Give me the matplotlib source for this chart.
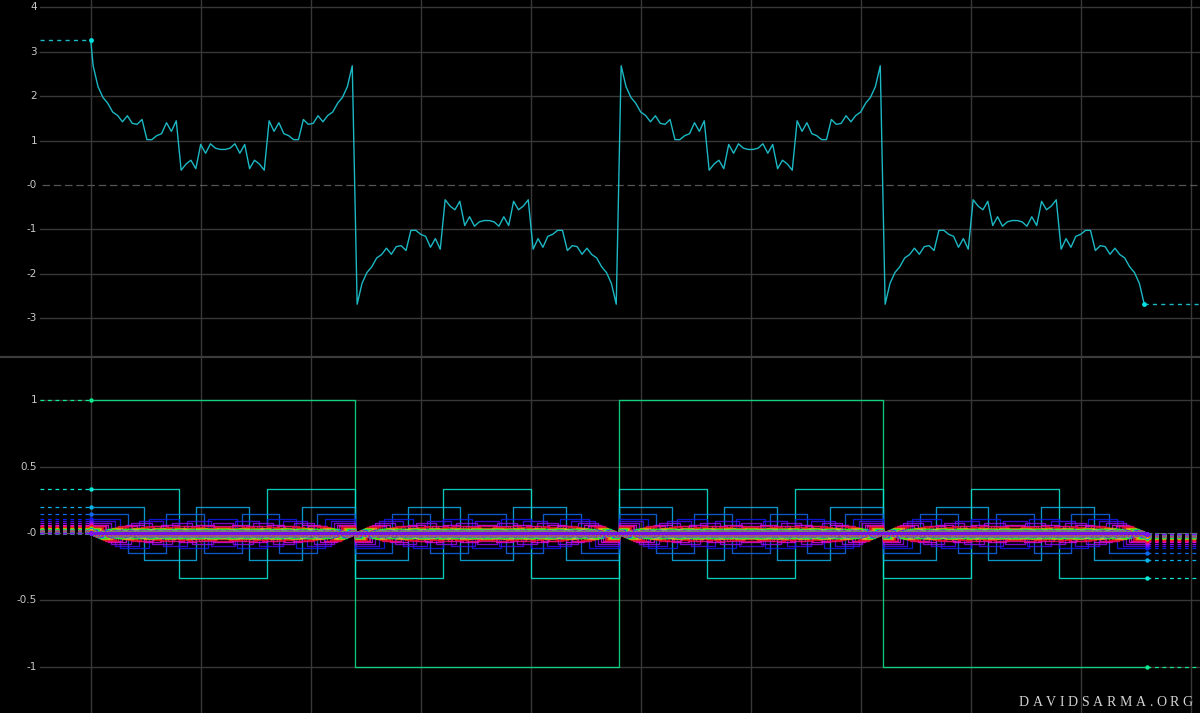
import numpy as np
import matplotlib.pyplot as plt
from matplotlib.lines import Line2D
import colorsys

# --- data ---
n_terms = 97                      # odd harmonics 1, 3, 5, ... 193
harmonics = np.arange(1, 2 * n_terms, 2)
amplitudes = 1.0 / harmonics      # 1, 1/3, 1/5, ...
period = 4.8                      # fundamental period (grid units)
x_end = 9.6                       # two periods drawn
n_samples = 216                   # samples of the summed curve

top_ticks = [4, 3, 2, 1, 0, -1, -2, -3]
top_labels = ["4", "3", "2", "1", "-0", "-1", "-2", "-3"]
bot_ticks = [1, 0.5, 0, -0.5, -1]
bot_labels = ["1", "0.5", "-0", "-0.5", "-1"]

W, H = 1200, 713
PX = 110.0          # pixels per x unit
X0 = 90.7           # pixel of x = 0


def px2x(p):
    return (p - X0) / PX


def square(n, x):
    ph = (n * x / period) % 1.0
    return np.where(ph < 0.5, 1.0, -1.0)


def wave_color(k):
    h = ((155 + 20 * k) % 360) / 360.0
    return colorsys.hsv_to_rgb(h, 0.95, 0.92)


fig = plt.figure(figsize=(W / 100, H / 100), dpi=100, facecolor="black")
ax_top = fig.add_axes([0, 1 - 356 / H, 1, 356 / H])
ax_bot = fig.add_axes([0, 0, 1, 355 / H])

xlim = (px2x(0), px2x(W))
ax_top.set_xlim(*xlim)
ax_top.set_ylim(-3.85, 4.165)
ax_bot.set_xlim(*xlim)
ax_bot.set_ylim(-1.345, 1.315)

grid_c = "#383838"
for ax, ticks, labels in [(ax_top, top_ticks, top_labels), (ax_bot, bot_ticks, bot_labels)]:
    ax.set_facecolor("black")
    ax.axis("off")
    for gx in range(0, 11):
        ax.axvline(gx, color=grid_c, lw=1.0, zorder=0)
    for t, lab in zip(ticks, labels):
        if t == 0:
            ax.plot([px2x(42), xlim[1]], [0, 0], color="#555555", lw=0.9,
                    dashes=(6, 3), zorder=0)
        else:
            ax.plot([px2x(40), xlim[1]], [t, t], color=grid_c, lw=1.0, zorder=0)
        ax.text(px2x(37), t, lab, color="#c8c8c8", fontsize=7.5,
                ha="right", va="center", family="DejaVu Sans")

# bottom: individual square waves
for k, (n, a) in enumerate(zip(harmonics, amplitudes)):
    c = wave_color(k)
    hp = period / 2 / n
    edges = np.arange(4 * n + 1) * hp
    vals = a * (-1.0) ** np.arange(4 * n)
    xs = np.repeat(edges, 2)[1:-1]
    ys = np.repeat(vals, 2)
    ax_bot.plot(xs, ys, color=c, lw=0.95, alpha=0.85, zorder=2 + k * 0.001)
    ax_bot.plot([px2x(40), 0], [a, a], color=c, lw=0.9, dashes=(3, 3), zorder=2)
    ax_bot.plot([x_end, xlim[1]], [-a, -a], color=c, lw=0.9, dashes=(3, 3), zorder=2)
    ax_bot.plot([0, x_end], [a, -a], "o", color=c, ms=3.2, mec="none", zorder=3)

# top: sum of the waves, sampled at the start and at mid-cells
h = x_end / n_samples
xs = np.concatenate([[0.0], (np.arange(n_samples) + 0.5) * h])
total = np.zeros_like(xs)
for n, a in zip(harmonics, amplitudes):
    total += a * square(n, xs)

line_c = "#1cb8c4"
ax_top.plot(xs, total, color=line_c, lw=1.0, zorder=3)
ax_top.plot([px2x(40), xs[0]], [total[0], total[0]], color=line_c, lw=1.0, dashes=(3, 3))
ax_top.plot([xs[-1], xlim[1]], [total[-1], total[-1]], color=line_c, lw=1.0, dashes=(3, 3))
ax_top.plot([xs[0], xs[-1]], [total[0], total[-1]], "o", color="#00e0e0", ms=3.5, mec="none", zorder=4)

# separator between the panels
fig.add_artist(Line2D([0, 1], [1 - 357 / H] * 2, color="#3c3c3c", lw=1.6))

# watermark, letter-spaced between x=1019 and x=1193 px
mark = "DAVIDSARMA.ORG"
renderer = fig.canvas.get_renderer()
letters = [fig.text(0, 1 - 706 / H, ch, color="#d4d4d4", fontsize=10,
                    family="Liberation Serif", ha="left", va="baseline")
           for ch in mark]
widths = [t.get_window_extent(renderer).width for t in letters]
gap = (1193 - 1019 - sum(widths)) / (len(mark) - 1)
xpos = 1019.0
for t, w in zip(letters, widths):
    t.set_x(xpos / W)
    xpos += w + gap

fig.savefig("out.png", dpi=100, facecolor="black")
